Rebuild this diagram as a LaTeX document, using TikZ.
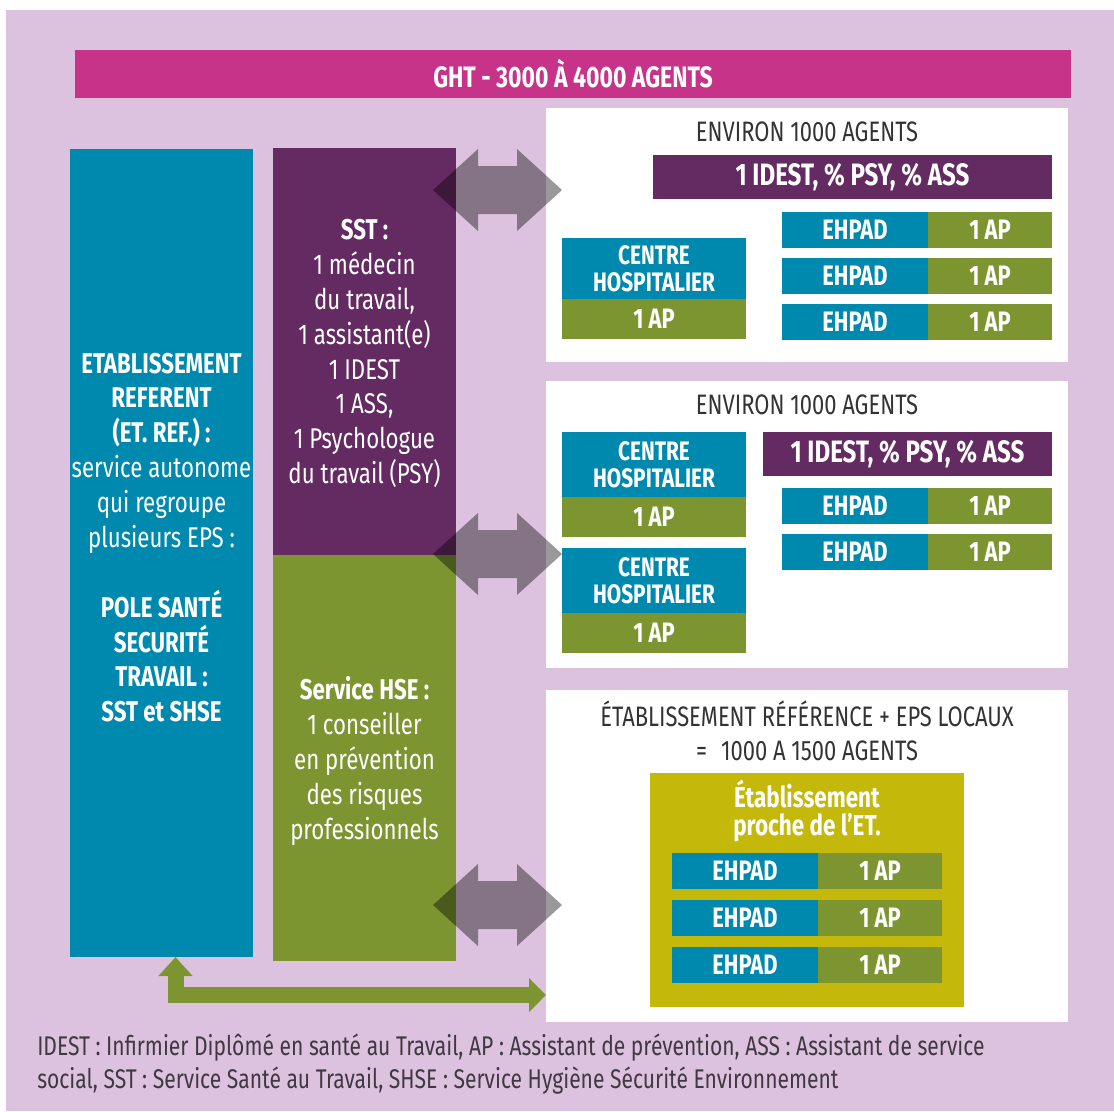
\documentclass[tikz,border=0pt]{standalone}
\usepackage{fontspec}
\setmainfont{Fira Sans}[FakeStretch=0.78]
\usetikzlibrary{positioning,fit,calc,arrows.meta}
\definecolor{lavbg}{RGB}{220,194,222}
\definecolor{ghtpink}{RGB}{200,51,138}
\definecolor{refblue}{RGB}{0,137,174}
\definecolor{sstpurple}{RGB}{100,42,98}
\definecolor{hsegreen}{RGB}{124,149,48}
\definecolor{procheyellow}{RGB}{196,184,10}
\definecolor{titlegray}{RGB}{51,51,51}
\definecolor{notegray}{RGB}{64,56,66}
\tikzset{area/.style={inner sep=0, outer sep=0, fill=white}}
\tikzset{block/.style={inner sep=0, outer sep=0, text=white, align=center, font=\bfseries\fontsize{20}{19.2}\selectfont}}
\tikzset{cell/.style={block, minimum height=9mm, anchor=north west}}
\tikzset{coltxt/.style={inner sep=0, text=white, align=center, font=\fontsize{20.3}{24.8}\selectfont}}
\tikzset{boxtitle/.style={inner sep=0, text=titlegray, align=center, font=\fontsize{20}{24.5}\selectfont}}
\tikzset{swap2/.style={fill=black, fill opacity=0.4}}
\tikzset{arrL/.style={draw=hsegreen, line width=4mm, {Triangle[width=8.25mm,length=4.75mm]}-{Triangle[width=8.25mm,length=4.25mm]}}}
\newcommand{\ehpadrow}[3]{%
  \node[cell, fill=refblue, minimum width=36.5mm] (#1e) at (#2,#3) {EHPAD};
  \node[cell, fill=hsegreen, minimum width=31mm, right=0pt of #1e] (#1a) {1 AP};}
\newcommand{\centrehosp}[3]{%
  \node[cell, fill=refblue, minimum width=46mm, minimum height=#3, font=\bfseries\fontsize{19}{19.2}\selectfont] (#1c) at (562,#2) {CENTRE\\HOSPITALIER};
  \node[cell, fill=hsegreen, minimum width=46mm, minimum height=10mm, below=0pt of #1c] (#1a) {1 AP};}
\newcommand{\swaparrow}[1]{%
  \fill[swap2] (#1) -- ++(45,-41) -- ++(0,17) -- ++(39,0) -- ++(0,-17) -- ++(45,41)
    -- ++(-45,41) -- ++(0,-17) -- ++(-39,0) -- ++(0,17) -- cycle;}
\begin{document}
\begin{tikzpicture}[x=0.25mm, y=-0.25mm]
\useasboundingbox (0,0) rectangle (1114,1111);
\fill[white] (0,0) rectangle (1114,1111);
\fill[lavbg] (6,10) rectangle (1114,1111);

% bandeau GHT
\node[area, fill=ghtpink, fit={(75,50) (1071,98)}] (ght) {};
\node[block, font=\bfseries\fontsize{21}{20}\selectfont] (ghttxt) at (ght.center) {GHT - 3000 À 4000 AGENTS};

% colonnes
\node[area, fill=refblue, fit={(70,149) (253,957)}] (etab) {};
\node[area, fill=sstpurple, fit={(273,148) (456,555)}] (sst) {};
\node[area, fill=hsegreen, fit={(273,555) (456,961)}] (hse) {};
\node[coltxt] (etabtxt) at (161.5,537.5) {\textbf{ETABLISSEMENT}\\\textbf{REFERENT}\\\textbf{(ET. REF.) :}\\service autonome\\qui regroupe\\plusieurs EPS :\\~\\\textbf{POLE SANTÉ}\\\textbf{SECURITÉ}\\\textbf{TRAVAIL :}\\\textbf{SST et SHSE}};
\node[coltxt] (ssttxt) at (364.5,353.5) {\textbf{SST :}\\1 médecin\\du travail,\\1 assistant(e)\\1 IDEST\\1 ASS,\\1 Psychologue\\du travail (PSY)};
\node[coltxt] (hsetxt) at (364.5,761) {\textbf{Service HSE :}\\1 conseiller\\en prévention\\des risques\\professionnels};

% cadres blancs
\node[area, fit={(546,108) (1068,362)}] (box1) {};
\node[area, fit={(546,381) (1068,668)}] (box2) {};
\node[area, fit={(546,690) (1068,1022)}] (box3) {};

% cadre 1
\node[boxtitle] (title1) at (807,132) {ENVIRON 1000 AGENTS};
\node[cell, fill=sstpurple, minimum width=99.75mm, minimum height=11mm, font=\bfseries\fontsize{22}{20}\selectfont] (idest1) at (653,155) {1 IDEST, \% PSY, \% ASS};
\centrehosp{ch1}{238}{15.25mm}
\ehpadrow{r1}{782}{212}
\ehpadrow{r2}{782}{258}
\ehpadrow{r3}{782}{304}

% cadre 2
\node[boxtitle] (title2) at (807,405) {ENVIRON 1000 AGENTS};
\node[cell, fill=sstpurple, minimum width=72.25mm, minimum height=11mm, font=\bfseries\fontsize{22}{20}\selectfont] (idest2) at (763,432) {1 IDEST, \% PSY, \% ASS};
\centrehosp{ch2}{432}{16.25mm}
\centrehosp{ch3}{548}{16.25mm}
\ehpadrow{r4}{782}{488}
\ehpadrow{r5}{782}{534}

% cadre 3
\node[boxtitle] (title3) at (807,731) {ÉTABLISSEMENT RÉFÉRENCE + EPS LOCAUX\\=\enspace 1000 A 1500 AGENTS};
\node[area, fill=procheyellow, fit={(650,773) (964,1007)}] (proche) {};
\node[block, font=\bfseries\fontsize{20.5}{19.5}\selectfont] (prochetxt) at (807,811) {Établissement\\proche de l’ET.};
\ehpadrow{r6}{672}{853}
\ehpadrow{r7}{672}{900}
\ehpadrow{r8}{672}{947}

% fleches
\coordinate (sw1) at (433,190);
\coordinate (sw2) at (433,554);
\coordinate (sw3) at (433,905);
\swaparrow{sw1}
\swaparrow{sw2}
\swaparrow{sw3}
\draw[arrL] ([xshift=3.5mm]etab.south) |- ([yshift=6.75mm]box3.south west);

% legende
\node[anchor=north west, inner sep=0, text=notegray, align=left, font=\fontsize{19.2}{23.5}\selectfont] (note) at (37,1034) {IDEST : Infirmier Diplômé en santé au Travail, AP : Assistant de prévention, ASS : Assistant de service\\social, SST : Service Santé au Travail, SHSE : Service Hygiène Sécurité Environnement};
\end{tikzpicture}
\end{document}
